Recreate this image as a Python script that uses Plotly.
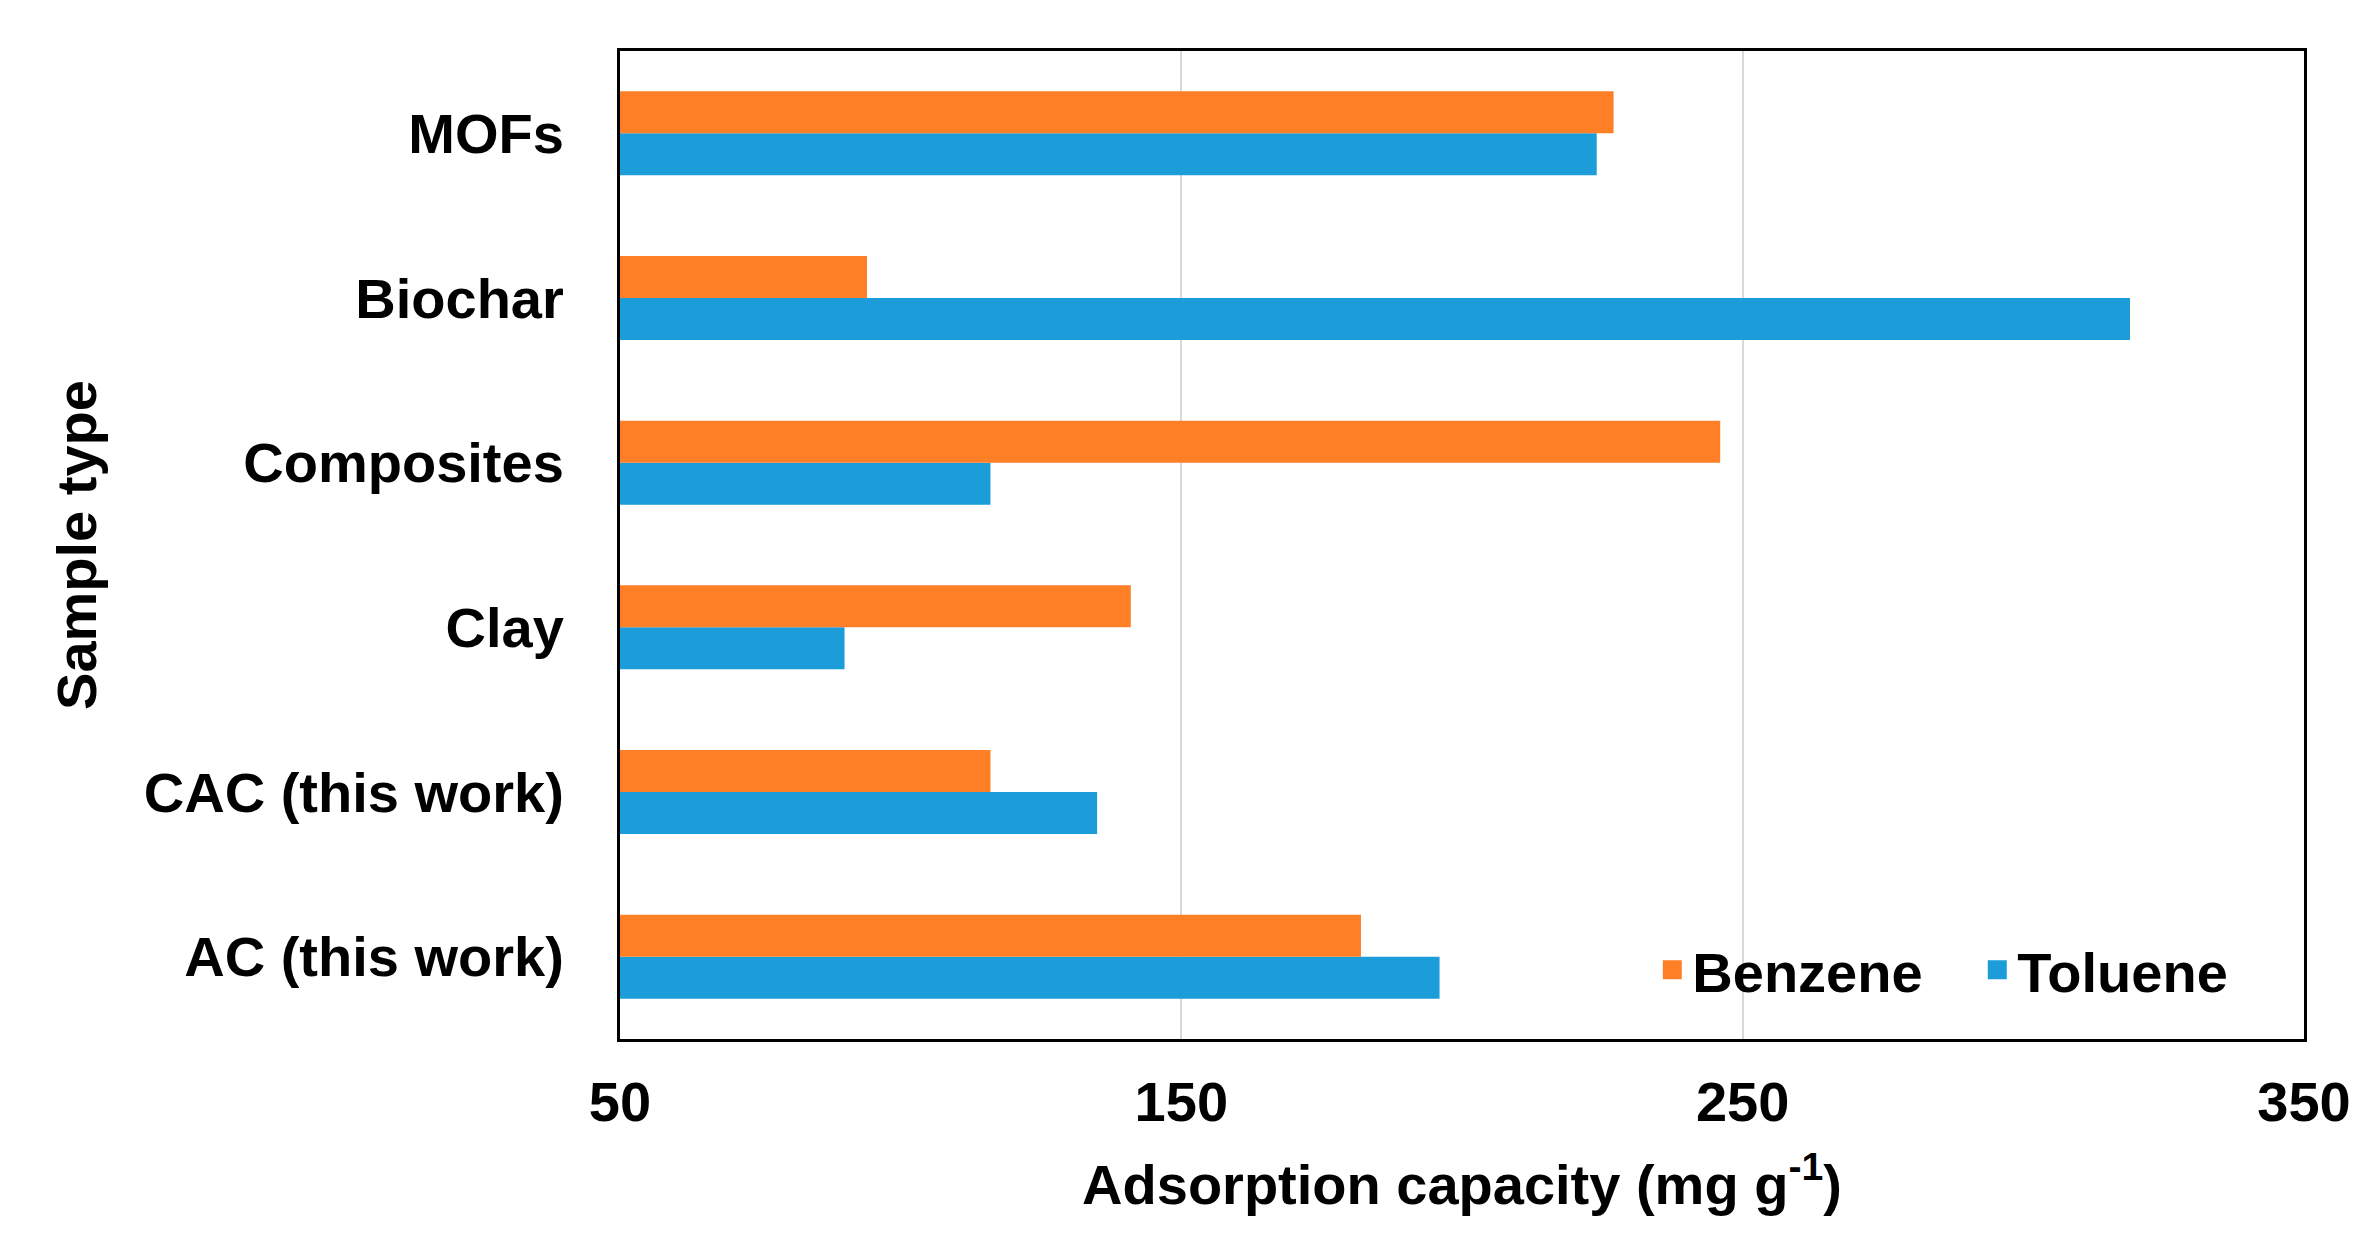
import plotly.graph_objects as go

categories = ["AC (this work)", "CAC (this work)", "Clay", "Composites", "Biochar", "MOFs"]
benzene = [182, 116, 141, 246, 94, 227]
toluene = [196, 135, 90, 116, 319, 224]
x_ticks = [50, 150, 250, 350]

ORANGE = "#FF7F27"
BLUE = "#1C9DD9"
FONT = dict(family="Liberation Sans, Arial, sans-serif", size=56, color="black", weight="bold")

fig = go.Figure()
fig.add_trace(go.Bar(y=categories, x=toluene, orientation="h", name="Toluene",
                     marker=dict(color=BLUE, line=dict(width=0)), showlegend=False))
fig.add_trace(go.Bar(y=categories, x=benzene, orientation="h", name="Benzene",
                     marker=dict(color=ORANGE, line=dict(width=0)), showlegend=False))
# legend entries (square swatches)
for name, col in [("Benzene", ORANGE), ("Toluene", BLUE)]:
    fig.add_trace(go.Scatter(x=[None], y=[None], mode="markers", name=name,
                             marker=dict(symbol="square", size=22, color=col,
                                         line=dict(width=3, color=col)),
                             showlegend=True))

fig.update_layout(
    width=2368, height=1251,
    margin=dict(l=612, r=72, t=43, b=220, autoexpand=False),
    paper_bgcolor="white", plot_bgcolor="white",
    font=FONT,
    barmode="group", bargap=0.49, bargroupgap=0,
    showlegend=True,
    legend=dict(orientation="h", x=0.613, xanchor="left", y=0.07, yanchor="middle",
                bgcolor="rgba(0,0,0,0)", font=FONT, itemwidth=30, entrywidth=280,
                itemsizing="trace", traceorder="normal"),
)
fig.update_xaxes(range=[50, 350], tickvals=x_ticks, ticktext=[str(v) for v in x_ticks],
                 showgrid=True, gridcolor="#D9D9D9", gridwidth=2, zeroline=False,
                 showline=True, linecolor="black", linewidth=3, mirror=True,
                 ticks="", ticklabelstandoff=12, tickfont=FONT,
                 title=dict(text="Adsorption capacity (mg g<sup>-1</sup>)", font=FONT, standoff=33),
                 automargin=False)
fig.update_yaxes(showgrid=False, zeroline=False,
                 showline=True, linecolor="black", linewidth=3, mirror=True,
                 ticks="", ticklabelstandoff=42, tickfont=FONT,
                 title=dict(text="Sample type", font=FONT, standoff=30),
                 automargin=False)

fig.write_html("out.html")
